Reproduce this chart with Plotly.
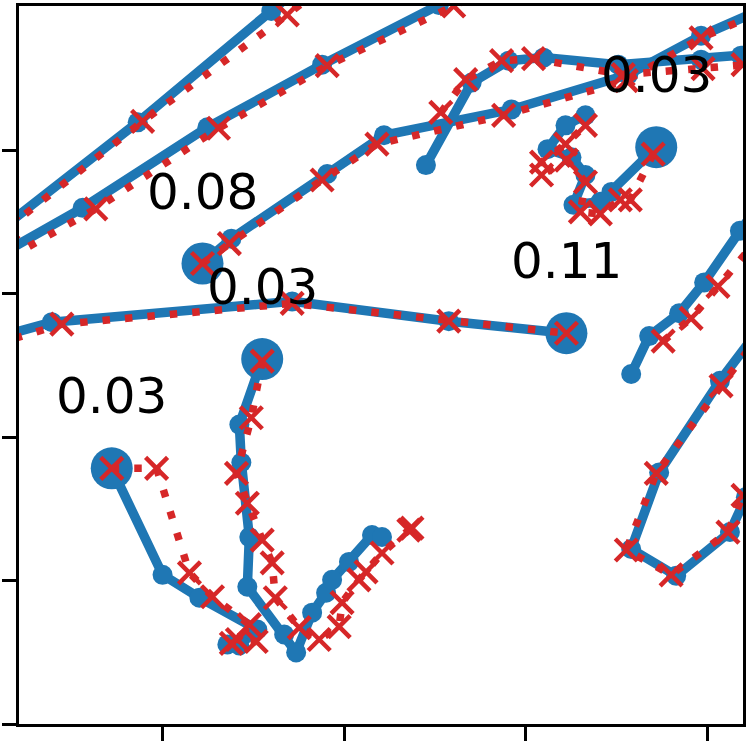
import plotly.graph_objects as go

# ---------------- data (axis units) ----------------
# ground-truth trajectories (blue)
gt_A_x = [0.104, 0.863, 1.599, 2.335]
gt_A_y = [3.445, 4.194, 4.971, 5.747]
gt_B_x = [-0.115, 0.560, 1.247, 1.879, 2.522, 3.154]
gt_B_y = [3.113, 3.598, 4.159, 4.596, 5.012, 5.442]
gt_C_x = [1.220, 1.379, 1.907, 2.220, 2.923, 3.566, 3.967, 4.445]
gt_C_y = [3.210, 3.383, 3.834, 4.104, 4.284, 4.527, 4.797, 5.061]
gt_D_x = [2.451, 2.703, 2.907, 3.099, 3.511, 3.967, 4.187, 4.500]
gt_D_y = [3.896, 4.471, 4.624, 4.645, 4.596, 4.631, 4.659, 4.693]
gt_E_x = [-0.225, 0.390, 1.714, 2.577, 3.225]
gt_E_y = [2.586, 2.801, 2.946, 2.808, 2.724]
gt_F_x = [1.549, 1.423, 1.434, 1.478, 1.467, 1.670, 1.736, 1.824, 1.901, 1.934, 2.027, 2.154, 2.209]
gt_F_y = [2.544, 2.087, 1.823, 1.303, 0.957, 0.624, 0.499, 0.776, 0.915, 1.005, 1.130, 1.317, 1.303]
gt_G_x = [0.720, 1.000, 1.203, 1.522, 1.423, 1.357]
gt_G_y = [1.782, 1.040, 0.880, 0.659, 0.548, 0.555]
gt_I_x = [3.720, 3.473, 3.412, 3.264, 3.330, 3.253, 3.121, 3.220, 3.330]
gt_I_y = [4.021, 3.709, 3.640, 3.619, 3.827, 3.951, 4.007, 4.173, 4.243]
gt_J_x = [3.582, 3.681, 3.846, 3.984, 4.181, 4.445]
gt_J_y = [2.440, 2.704, 2.863, 3.078, 3.438, 3.882]
gt_K_x = [4.445, 4.071, 3.736, 3.582, 3.830, 4.126, 4.214, 4.308]
gt_K_y = [3.016, 2.392, 1.754, 1.220, 1.033, 1.338, 1.581, 1.872]

# predicted trajectories (red)
pr_A_x = [0.148, 0.890, 1.687, 2.440]
pr_A_y = [3.459, 4.201, 4.943, 5.705]
pr_B_x = [-0.060, 0.632, 1.308, 1.907, 2.604, 3.236]
pr_B_y = [3.099, 3.591, 4.153, 4.589, 5.005, 5.428]
pr_C_x = [1.220, 1.368, 1.879, 2.181, 2.879, 3.555, 3.967, 4.418]
pr_C_y = [3.210, 3.348, 3.792, 4.042, 4.243, 4.485, 4.783, 5.026]
pr_D_x = [2.533, 2.670, 2.868, 3.044, 3.538, 3.978, 4.198, 4.500]
pr_D_y = [4.263, 4.492, 4.624, 4.638, 4.527, 4.568, 4.596, 4.624]
pr_E_x = [-0.170, 0.445, 1.714, 2.577, 3.225]
pr_E_y = [2.551, 2.787, 2.932, 2.808, 2.724]
pr_F_x = [1.549, 1.489, 1.407, 1.467, 1.549, 1.604, 1.621, 1.753, 1.863, 1.973, 1.989, 2.082, 2.121, 2.209, 2.357, 2.374]
pr_F_y = [2.530, 2.135, 1.747, 1.539, 1.282, 1.123, 0.880, 0.672, 0.589, 0.679, 0.846, 1.005, 1.061, 1.192, 1.352, 1.366]
pr_G_x = [0.720, 0.967, 1.148, 1.275, 1.478, 1.412, 1.516, 1.379]
pr_G_y = [1.782, 1.782, 1.054, 0.887, 0.693, 0.589, 0.575, 0.562]
pr_I_x = [3.703, 3.577, 3.522, 3.412, 3.302, 3.330, 3.225, 3.088, 3.088, 3.220, 3.330]
pr_I_y = [3.972, 3.653, 3.653, 3.556, 3.570, 3.778, 3.931, 3.827, 3.917, 4.042, 4.173]
pr_J_x = [3.758, 3.912, 4.060, 4.335]
pr_J_y = [2.669, 2.828, 3.050, 3.466]
pr_K_x = [4.445, 4.077, 3.720, 3.555, 3.802, 4.115, 4.198, 4.308]
pr_K_y = [2.981, 2.357, 1.747, 1.213, 1.040, 1.338, 1.594, 1.893]

# highlighted agents: (trajectory, index of the marked point, label)
highlight_traj = ["C", "E", "F", "G", "I"]
highlight_idx = [0, -1, 0, 0, 0]
highlight_label = ["0.08", "0.11", "0.03", "0.03", "0.03"]

x_ticks = [1, 2, 3, 4]
y_ticks = [0, 1, 2, 3, 4]
x_range = [0.209, 4.198]
y_range = [0.0, 5.005]

# ---------------- figure ----------------
BLUE = "#1f77b4"
RED = "#d62728"

gt = {
    "A": (gt_A_x, gt_A_y), "B": (gt_B_x, gt_B_y), "C": (gt_C_x, gt_C_y),
    "D": (gt_D_x, gt_D_y), "E": (gt_E_x, gt_E_y), "F": (gt_F_x, gt_F_y),
    "G": (gt_G_x, gt_G_y), "I": (gt_I_x, gt_I_y), "J": (gt_J_x, gt_J_y),
    "K": (gt_K_x, gt_K_y),
}
pr = {
    "A": (pr_A_x, pr_A_y), "B": (pr_B_x, pr_B_y), "C": (pr_C_x, pr_C_y),
    "D": (pr_D_x, pr_D_y), "E": (pr_E_x, pr_E_y), "F": (pr_F_x, pr_F_y),
    "G": (pr_G_x, pr_G_y), "I": (pr_I_x, pr_I_y), "J": (pr_J_x, pr_J_y),
    "K": (pr_K_x, pr_K_y),
}

fig = go.Figure()

for k, (xs, ys) in gt.items():
    fig.add_trace(go.Scatter(
        x=xs, y=ys, mode="lines+markers",
        line=dict(color=BLUE, width=9.5),
        marker=dict(color=BLUE, size=20, symbol="circle"),
        showlegend=False, hoverinfo="skip"))

hx = [gt[t][0][i] for t, i in zip(highlight_traj, highlight_idx)]
hy = [gt[t][1][i] for t, i in zip(highlight_traj, highlight_idx)]
fig.add_trace(go.Scatter(
    x=hx, y=hy, mode="markers",
    marker=dict(color=BLUE, size=42, symbol="circle"),
    showlegend=False, hoverinfo="skip"))

for k, (xs, ys) in pr.items():
    fig.add_trace(go.Scatter(
        x=xs, y=ys, mode="lines+markers",
        line=dict(color=RED, width=7.5, dash="7.5px,15px"),
        marker=dict(symbol="x-thin", size=22, color=RED,
                    line=dict(color=RED, width=4.5)),
        showlegend=False, hoverinfo="skip"))

for xv, yv, lab in zip(hx, hy, highlight_label):
    fig.add_annotation(x=xv, y=yv, text=lab, showarrow=False,
                       yshift=72, xanchor="center", yanchor="middle",
                       font=dict(family="DejaVu Sans", size=50, color="black"))

axis_common = dict(
    showgrid=False, zeroline=False, showticklabels=False,
    ticks="outside", ticklen=14, tickwidth=3, tickcolor="black",
    showline=True, linewidth=3, linecolor="black", mirror=True,
)
fig.update_xaxes(range=x_range, tickvals=x_ticks, **axis_common)
fig.update_yaxes(range=y_range, tickvals=y_ticks, **axis_common)

fig.update_layout(
    width=749, height=741,
    margin=dict(l=19, r=4, t=3, b=16),
    paper_bgcolor="white", plot_bgcolor="white",
)

fig.write_html(
    "out.html",
    config={"displayModeBar": False, "staticPlot": True},
    post_script="document.body.style.margin='0px';document.body.style.overflow='hidden';",
)
